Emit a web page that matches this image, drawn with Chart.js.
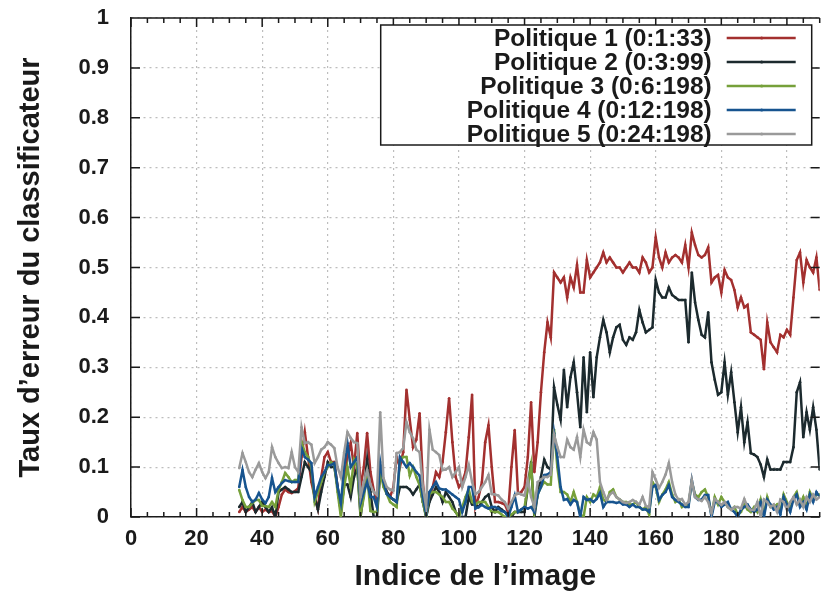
<!DOCTYPE html>
<html>
<head>
<meta charset="utf-8">
<script src="https://cdn.jsdelivr.net/npm/chart.js@4.4.1/dist/chart.umd.min.js"></script>
<style>
  html, body { margin: 0; padding: 0; background: #fff; }
  canvas { display: block; }
</style>
</head>
<body>
<canvas id="errorChart" width="821" height="591"></canvas>
<script>
// Image indices start at 33 and run one by one to 210
const firstIndex = 33;

const seriesLabels = [
    'Politique 1 (0:1:33)',
    'Politique 2 (0:3:99)',
    'Politique 3 (0:6:198)',
    'Politique 4 (0:12:198)',
    'Politique 5 (0:24:198)'
];

const seriesColors = ['#a3302f', '#1c2a2e', '#76a03a', '#17548f', '#9a9a9a'];

const politique1 = [
    0.01, 0.02, 0.01, 0.015, 0.02, 0.01, 0.02, 0.01, 0.015, 0.01,
    0.012, 0.0, 0.02, 0.045, 0.055, 0.05, 0.048, 0.052, 0.058, 0.12,
    0.17, 0.12, 0.07, 0.04, 0.016, 0.08, 0.12, 0.13, 0.11, 0.11,
    0.06, 0.01, 0.07, 0.12, 0.148, 0.1, 0.168, 0.06, 0.1, 0.168,
    0.09, 0.054, 0.03, 0.09, 0.07, 0.05, 0.04, 0.06, 0.12, 0.1,
    0.13, 0.255, 0.195, 0.14, 0.155, 0.208, 0.07, 0.0, 0.04, 0.06,
    0.09, 0.08, 0.11, 0.17, 0.238, 0.15, 0.08, 0.06, 0.07, 0.09,
    0.16, 0.245, 0.02, 0.04, 0.07, 0.15, 0.184, 0.1, 0.03, 0.03,
    0.028, 0.025, 0.01, 0.1, 0.174, 0.047, 0.05, 0.06, 0.12, 0.23,
    0.09, 0.15, 0.25, 0.33, 0.39, 0.36, 0.49, 0.48, 0.47, 0.48,
    0.44, 0.48, 0.46, 0.505, 0.45, 0.45, 0.515, 0.48, 0.49, 0.50,
    0.51, 0.53, 0.51, 0.52, 0.51, 0.50, 0.50, 0.49, 0.50, 0.51,
    0.50, 0.50, 0.49, 0.52, 0.51, 0.49, 0.50, 0.56, 0.52, 0.50,
    0.53, 0.51, 0.52, 0.525, 0.52, 0.51, 0.545, 0.50, 0.57, 0.545,
    0.525, 0.52, 0.525, 0.54, 0.47, 0.48, 0.485, 0.45, 0.495, 0.48,
    0.475, 0.455, 0.42, 0.44, 0.42, 0.425, 0.37, 0.365, 0.36, 0.355,
    0.296, 0.39, 0.35, 0.34, 0.33, 0.365, 0.36, 0.375, 0.365, 0.44,
    0.515, 0.53, 0.47, 0.515, 0.50, 0.49, 0.52, 0.455
];

const politique2 = [
    0.02, 0.03, 0.01, 0.02, 0.03, 0.01, 0.02, 0.03, 0.02, 0.01,
    0.02, 0.0, 0.05, 0.055, 0.06, 0.055, 0.05, 0.05, 0.05, 0.08,
    0.11, 0.1, 0.09, 0.04, 0.015, 0.05, 0.08, 0.11, 0.1, 0.1,
    0.06, 0.01, 0.065, 0.065, 0.04, 0.08, 0.10, 0.0, 0.05, 0.115,
    0.05, 0.0, 0.0, 0.09, 0.07, 0.05, 0.04, 0.035, 0.03, 0.06,
    0.06, 0.06, 0.055, 0.045, 0.055, 0.065, 0.03, 0.0, 0.03, 0.045,
    0.06, 0.05, 0.03, 0.05, 0.04, 0.03, 0.01, 0.0, 0.0, 0.0,
    0.04, 0.025, 0.025, 0.02, 0.03, 0.04, 0.045, 0.02, 0.01, 0.02,
    0.015, 0.01, 0.005, 0.0, 0.01, 0.01, 0.01, 0.01, 0.06, 0.11,
    0.0, 0.045, 0.08, 0.115, 0.10, 0.095, 0.26, 0.225, 0.195, 0.295,
    0.22, 0.28, 0.31, 0.25, 0.18, 0.32, 0.21, 0.33, 0.24, 0.32,
    0.36, 0.395, 0.37, 0.33, 0.36, 0.38, 0.385, 0.355, 0.345, 0.36,
    0.355, 0.37, 0.415, 0.39, 0.37, 0.375, 0.38, 0.475, 0.45, 0.44,
    0.44, 0.46, 0.445, 0.44, 0.435, 0.435, 0.435, 0.35, 0.49, 0.43,
    0.395, 0.365, 0.36, 0.41, 0.31, 0.275, 0.245, 0.25, 0.31, 0.245,
    0.29, 0.23, 0.17, 0.22, 0.15, 0.19, 0.128, 0.125, 0.12, 0.105,
    0.08, 0.115, 0.095, 0.095, 0.095, 0.095, 0.11, 0.11, 0.11, 0.14,
    0.25, 0.27, 0.16, 0.21, 0.175, 0.22, 0.175, 0.095
];

const politique3 = [
    0.054, 0.034, 0.02, 0.02, 0.028, 0.034, 0.034, 0.022, 0.022, 0.02,
    0.03, 0.02, 0.054, 0.07, 0.088, 0.08, 0.07, 0.074, 0.074, 0.15,
    0.13, 0.12, 0.1, 0.03, 0.05, 0.07, 0.09, 0.1, 0.11, 0.105,
    0.05, 0.0, 0.06, 0.1, 0.06, 0.115, 0.1, 0.005, 0.04, 0.085,
    0.012, 0.01, 0.01, 0.092, 0.06, 0.046, 0.03, 0.025, 0.02, 0.115,
    0.12, 0.12, 0.083, 0.1, 0.08, 0.064, 0.03, 0.0, 0.046, 0.05,
    0.05, 0.045, 0.04, 0.03, 0.03, 0.017, 0.01, 0.0, 0.02, 0.04,
    0.055, 0.03, 0.025, 0.03, 0.03, 0.03, 0.02, 0.01, 0.01, 0.01,
    0.005, 0.0, 0.0, 0.005, 0.01, 0.01, 0.015, 0.02, 0.06, 0.104,
    0.01, 0.045, 0.06, 0.07, 0.065, 0.065, 0.175, 0.1, 0.05, 0.05,
    0.045, 0.03, 0.05, 0.03, 0.005, 0.0, 0.04, 0.03, 0.045, 0.04,
    0.06, 0.035, 0.03, 0.05, 0.055, 0.04, 0.035, 0.03, 0.03, 0.025,
    0.025, 0.03, 0.02, 0.015, 0.02, 0.005, 0.07, 0.06, 0.03, 0.045,
    0.055, 0.07, 0.045, 0.03, 0.035, 0.02, 0.025, 0.025, 0.07, 0.045,
    0.04, 0.05, 0.055, 0.04, 0.005, 0.04, 0.025, 0.04, 0.03, 0.02,
    0.015, 0.02, 0.005, 0.01, 0.025, 0.015, 0.01, 0.02, 0.01, 0.035,
    0.005, 0.04, 0.02, 0.02, 0.025, 0.01, 0.045, 0.03, 0.015, 0.04,
    0.05, 0.025, 0.04, 0.02, 0.05, 0.035, 0.045, 0.045
];

const politique4 = [
    0.06, 0.094, 0.06, 0.04, 0.03, 0.035, 0.048, 0.035, 0.028, 0.04,
    0.078, 0.05, 0.06, 0.068, 0.074, 0.072, 0.07, 0.07, 0.07, 0.138,
    0.12, 0.115, 0.108, 0.04, 0.06, 0.08, 0.09, 0.104, 0.104, 0.108,
    0.06, 0.028, 0.1, 0.148, 0.1, 0.11, 0.12, 0.028, 0.05, 0.07,
    0.04, 0.04, 0.02, 0.11, 0.07, 0.046, 0.04, 0.035, 0.03, 0.12,
    0.11, 0.1, 0.108, 0.1, 0.09, 0.083, 0.04, 0.005, 0.05, 0.06,
    0.07, 0.057, 0.055, 0.055, 0.05, 0.045, 0.04, 0.035, 0.01, 0.03,
    0.06, 0.06, 0.017, 0.02, 0.024, 0.02, 0.017, 0.02, 0.02, 0.017,
    0.012, 0.01, 0.0, 0.02, 0.043, 0.01, 0.015, 0.02, 0.017, 0.02,
    0.01, 0.045, 0.06, 0.084, 0.085, 0.09, 0.168, 0.12, 0.06, 0.034,
    0.036, 0.025, 0.034, 0.03, 0.0, 0.04, 0.034, 0.036, 0.03, 0.036,
    0.048, 0.02, 0.03, 0.03, 0.03, 0.028, 0.03, 0.025, 0.025, 0.02,
    0.025, 0.02, 0.02, 0.015, 0.015, 0.01, 0.06, 0.064, 0.034, 0.044,
    0.05, 0.064, 0.04, 0.034, 0.03, 0.025, 0.02, 0.02, 0.074, 0.04,
    0.034, 0.035, 0.044, 0.044, 0.0, 0.03, 0.03, 0.02, 0.025, 0.03,
    0.015, 0.01, 0.0, 0.015, 0.02, 0.025, 0.015, 0.01, 0.015, 0.03,
    0.0, 0.035, 0.025, 0.015, 0.02, 0.005, 0.04, 0.025, 0.01, 0.035,
    0.045, 0.02, 0.03, 0.015, 0.045, 0.03, 0.05, 0.04
];

const politique5 = [
    0.098, 0.128, 0.11, 0.09, 0.08, 0.095, 0.108, 0.09, 0.078, 0.09,
    0.14, 0.12, 0.108, 0.098, 0.1, 0.098, 0.13, 0.1, 0.09, 0.18,
    0.148, 0.15, 0.145, 0.108, 0.12, 0.135, 0.14, 0.15, 0.145, 0.138,
    0.1, 0.08, 0.13, 0.17, 0.158, 0.15, 0.148, 0.04, 0.07, 0.094,
    0.065, 0.05, 0.044, 0.21, 0.078, 0.06, 0.055, 0.053, 0.128, 0.13,
    0.138, 0.19, 0.17, 0.158, 0.135, 0.13, 0.06, 0.02, 0.175, 0.135,
    0.13, 0.124, 0.094, 0.095, 0.1, 0.08, 0.09, 0.1, 0.06, 0.08,
    0.104, 0.07, 0.046, 0.05, 0.06, 0.07, 0.084, 0.046, 0.045, 0.043,
    0.035, 0.03, 0.017, 0.03, 0.043, 0.048, 0.045, 0.043, 0.074, 0.04,
    0.02, 0.07, 0.075, 0.08, 0.08, 0.085, 0.165, 0.14, 0.12, 0.12,
    0.155, 0.14, 0.135, 0.16, 0.12, 0.175, 0.15, 0.145, 0.17, 0.155,
    0.07, 0.05, 0.034, 0.045, 0.05, 0.04, 0.035, 0.03, 0.028, 0.03,
    0.034, 0.03, 0.025, 0.04, 0.022, 0.02, 0.09, 0.075, 0.058, 0.07,
    0.085, 0.108, 0.07, 0.045, 0.034, 0.036, 0.025, 0.03, 0.074, 0.04,
    0.035, 0.032, 0.04, 0.03, 0.008, 0.036, 0.03, 0.024, 0.03, 0.02,
    0.014, 0.02, 0.02, 0.017, 0.036, 0.02, 0.014, 0.014, 0.03, 0.0,
    0.035, 0.03, 0.02, 0.025, 0.01, 0.035, 0.03, 0.015, 0.03, 0.04,
    0.025, 0.035, 0.02, 0.04, 0.03, 0.045, 0.035, 0.04
];

const xTicks = [0, 20, 40, 60, 80, 100, 120, 140, 160, 180, 200];
const yTicks = [0, 0.1, 0.2, 0.3, 0.4, 0.5, 0.6, 0.7, 0.8, 0.9, 1];
const yTickLabels = ['0', '0.1', '0.2', '0.3', '0.4', '0.5', '0.6', '0.7', '0.8', '0.9', '1'];
const xMinorStep = 5;

const fontFamily = "'Liberation Sans', Arial, Helvetica, sans-serif";
const textColor = '#1a1a1a';

function toPoints(values) {
    return values.map((v, i) => ({ x: firstIndex + i, y: v }));
}

// Inward tick marks and the top frame line, gnuplot style
const frameTicks = {
    id: 'frameTicks',
    afterDraw(chart) {
        const ctx = chart.ctx;
        const area = chart.chartArea;
        const xs = chart.scales.x;
        const ys = chart.scales.y;
        ctx.save();
        ctx.strokeStyle = textColor;
        ctx.lineWidth = 1.5;
        ctx.beginPath();
        ctx.moveTo(area.left, area.top);
        ctx.lineTo(area.right, area.top);
        // x minor + major ticks
        for (let v = xs.min; v <= xs.max; v += xMinorStep) {
            const px = xs.getPixelForValue(v);
            const len = xTicks.includes(v) ? 9 : 5;
            ctx.moveTo(px, area.bottom);
            ctx.lineTo(px, area.bottom - len);
            ctx.moveTo(px, area.top);
            ctx.lineTo(px, area.top + len);
        }
        yTicks.forEach(v => {
            const py = ys.getPixelForValue(v);
            ctx.moveTo(area.left, py);
            ctx.lineTo(area.left + 9, py);
            ctx.moveTo(area.right, py);
            ctx.lineTo(area.right - 9, py);
        });
        ctx.stroke();
        ctx.restore();
    }
};

// Boxed legend inside the plot, text right-aligned with the line sample on its right
const boxLegend = {
    id: 'boxLegend',
    afterDraw(chart) {
        const ctx = chart.ctx;
        const area = chart.chartArea;
        const boxRight = area.right - 8;
        const boxTop = area.top + 7;
        const boxWidth = 431;
        const rowHeight = 24;
        const boxHeight = rowHeight * seriesLabels.length;
        ctx.save();
        ctx.fillStyle = '#ffffff';
        ctx.fillRect(boxRight - boxWidth, boxTop, boxWidth, boxHeight);
        ctx.strokeStyle = textColor;
        ctx.lineWidth = 1.5;
        ctx.strokeRect(boxRight - boxWidth, boxTop, boxWidth, boxHeight);

        ctx.font = 'bold 24.5px ' + fontFamily;
        ctx.textAlign = 'right';
        ctx.textBaseline = 'middle';
        seriesLabels.forEach((label, i) => {
            const cy = boxTop + rowHeight * i + rowHeight / 2 + 1;
            ctx.fillStyle = textColor;
            ctx.fillText(label, boxRight - 100, cy + 1);
            ctx.strokeStyle = seriesColors[i];
            ctx.lineWidth = 2.5;
            ctx.beginPath();
            ctx.moveTo(boxRight - 85, cy);
            ctx.lineTo(boxRight - 16, cy);
            ctx.stroke();
            ctx.fillStyle = seriesColors[i];
            ctx.beginPath();
            ctx.arc(boxRight - 50, cy, 1.6, 0, Math.PI * 2);
            ctx.fill();
        });
        ctx.restore();
    }
};

const allSeries = [politique1, politique2, politique3, politique4, politique5];

new Chart(document.getElementById('errorChart'), {
    type: 'line',
    data: {
        datasets: allSeries.map((values, i) => ({
            label: seriesLabels[i],
            data: toPoints(values),
            borderColor: seriesColors[i],
            backgroundColor: seriesColors[i],
            borderWidth: 2.5,
            pointRadius: 1.3,
            pointBorderWidth: 0,
            pointHoverRadius: 0,
            tension: 0,
            fill: false,
            order: allSeries.length - i
        }))
    },
    options: {
        responsive: false,
        animation: false,
        devicePixelRatio: 1,
        layout: {
            padding: { top: 18, right: 0, bottom: 0, left: 0 }
        },
        plugins: {
            legend: { display: false },
            tooltip: { enabled: false }
        },
        scales: {
            x: {
                type: 'linear',
                min: 0,
                max: 210,
                afterBuildTicks: function(scale) {
                    scale.ticks = xTicks.map(v => ({ value: v }));
                },
                afterFit: function(scale) {
                    scale.height = 74;
                    scale.paddingLeft = 0;
                    scale.paddingRight = 0;
                },
                ticks: {
                    padding: 9,
                    maxRotation: 0,
                    autoSkip: false,
                    color: textColor,
                    font: { family: fontFamily, size: 22, weight: 'bold' }
                },
                grid: {
                    color: '#bdbdbd',
                    lineWidth: 1.2,
                    drawTicks: false
                },
                border: {
                    display: true,
                    color: textColor,
                    width: 1.5,
                    dash: [2, 4]
                },
                title: {
                    display: true,
                    text: 'Indice de l\u2019image',
                    color: textColor,
                    padding: { top: 0, bottom: -1 },
                    font: { family: fontFamily, size: 30, weight: 'bold', lineHeight: 1 }
                }
            },
            y: {
                type: 'linear',
                min: 0,
                max: 1,
                afterBuildTicks: function(scale) {
                    scale.ticks = yTicks.map(v => ({ value: v }));
                },
                afterFit: function(scale) {
                    scale.width = 131;
                    scale.paddingTop = 0;
                    scale.paddingBottom = 0;
                },
                ticks: {
                    padding: 22,
                    autoSkip: false,
                    color: textColor,
                    font: { family: fontFamily, size: 22, weight: 'bold' },
                    callback: function(value) {
                        const idx = yTicks.findIndex(t => Math.abs(t - value) < 1e-9);
                        return idx >= 0 ? yTickLabels[idx] : '';
                    }
                },
                grid: {
                    color: '#bdbdbd',
                    lineWidth: 1.2,
                    drawTicks: false
                },
                border: {
                    display: true,
                    color: textColor,
                    width: 1.5,
                    dash: [2, 4]
                },
                title: {
                    display: true,
                    text: 'Taux d\u2019erreur du classificateur',
                    color: textColor,
                    padding: { top: 16, bottom: 0 },
                    font: { family: fontFamily, size: 29, weight: 'bold', lineHeight: 1 }
                }
            }
        }
    },
    plugins: [frameTicks, boxLegend]
});
</script>
</body>
</html>
